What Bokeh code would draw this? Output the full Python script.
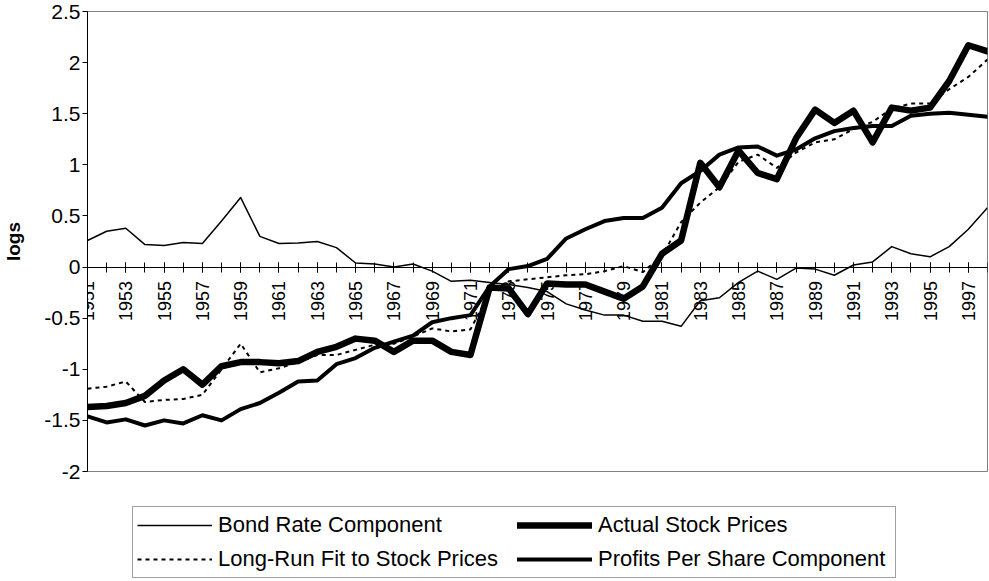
from math import pi
from bokeh.plotting import figure
from bokeh.layouts import column
from bokeh.models import Range1d, FixedTicker, Legend, LegendItem
from bokeh.embed import file_html
from bokeh.resources import INLINE

# ---------------- data ----------------
years = list(range(1951, 1999))

bond = [0.26, 0.35, 0.38, 0.22, 0.21, 0.24, 0.23, 0.45, 0.68, 0.30,
        0.23, 0.235, 0.25, 0.19, 0.04, 0.03, 0.00, 0.03, -0.04, -0.14,
        -0.13, -0.15, -0.17, -0.20, -0.24, -0.36, -0.42, -0.47, -0.47, -0.53,
        -0.53, -0.58, -0.33, -0.30, -0.15, -0.04, -0.12, -0.01, -0.02, -0.08,
        0.02, 0.05, 0.20, 0.13, 0.10, 0.20, 0.37, 0.58]

actual = [-1.37, -1.36, -1.33, -1.26, -1.11, -1.00, -1.15, -0.97, -0.93, -0.93,
          -0.94, -0.92, -0.83, -0.78, -0.70, -0.72, -0.83, -0.72, -0.72, -0.83,
          -0.86, -0.20, -0.21, -0.46, -0.16, -0.17, -0.17, -0.24, -0.31, -0.19,
          0.13, 0.26, 1.02, 0.78, 1.14, 0.92, 0.86, 1.26, 1.54, 1.41,
          1.53, 1.22, 1.56, 1.53, 1.56, 1.82, 2.17, 2.11]

longrun = [-1.19, -1.17, -1.12, -1.32, -1.30, -1.29, -1.25, -1.00, -0.75, -1.03,
           -0.99, -0.93, -0.86, -0.86, -0.81, -0.76, -0.75, -0.68, -0.60, -0.63,
           -0.61, -0.25, -0.14, -0.12, -0.10, -0.08, -0.07, -0.04, 0.01, -0.05,
           0.11, 0.44, 0.63, 0.78, 1.03, 1.10, 0.97, 1.12, 1.22, 1.25,
           1.35, 1.42, 1.55, 1.60, 1.60, 1.74, 1.86, 2.03]

profits = [-1.46, -1.52, -1.49, -1.55, -1.50, -1.53, -1.45, -1.50, -1.39, -1.33,
           -1.23, -1.12, -1.11, -0.95, -0.89, -0.79, -0.73, -0.67, -0.54, -0.50,
           -0.47, -0.19, -0.02, 0.01, 0.08, 0.28, 0.37, 0.45, 0.48, 0.48,
           0.58, 0.82, 0.94, 1.10, 1.17, 1.18, 1.09, 1.15, 1.26, 1.33,
           1.36, 1.38, 1.38, 1.48, 1.50, 1.51, 1.49, 1.47]

series_names = ["Bond Rate Component", "Actual Stock Prices",
                "Long-Run Fit to Stock Prices", "Profits Per Share Component"]

ytick_values = [-2, -1.5, -1, -0.5, 0, 0.5, 1, 1.5, 2, 2.5]
ytick_labels = ["-2", "-1.5", "-1", "-0.5", "0", "0.5", "1", "1.5", "2", "2.5"]
xlabel_years = years[::2]
y_title = "logs"

FONT = "Liberation Sans"

# styles for the four series (same order as series_names)
styles = [
    dict(line_color="black", line_width=1.5, line_join="round"),
    dict(line_color="black", line_width=6.5, line_join="round", line_cap="round"),
    dict(line_color="black", line_width=2, line_dash="4 4"),
    dict(line_color="black", line_width=4, line_join="round", line_cap="round"),
]
series = [bond, actual, longrun, profits]

# ---------------- main chart ----------------
p = figure(width=989, height=506, output_backend="svg", toolbar_location=None,
           x_range=Range1d(years[0], years[-1]), y_range=Range1d(-2, 2.5),
           min_border_left=86, min_border_right=2, min_border_top=11,
           min_border_bottom=35, background_fill_color="white",
           border_fill_color="white")

p.xgrid.visible = False
p.ygrid.visible = False
p.outline_line_color = "#808080"
p.outline_line_width = 1

# x axis crossing at y = 0
xa = p.xaxis[0]
xa.fixed_location = 0
xa.ticker = FixedTicker(ticks=xlabel_years, minor_ticks=years)
xa.axis_line_color = "black"
xa.major_tick_line_color = "black"
xa.minor_tick_line_color = "black"
xa.major_tick_in = 5
xa.major_tick_out = 5
xa.minor_tick_in = 5
xa.minor_tick_out = 5
xa.major_label_orientation = pi / 2
xa.major_label_standoff = 9
xa.major_label_text_font = FONT
xa.major_label_text_font_size = "18px"
xa.major_label_text_color = "black"

ya = p.yaxis[0]
ya.ticker = FixedTicker(ticks=ytick_values, minor_ticks=[])
ya.major_label_overrides = {v: s for v, s in zip(ytick_values, ytick_labels)}
ya.axis_line_color = "black"
ya.major_tick_line_color = "black"
ya.major_tick_in = 0
ya.major_tick_out = 5
ya.major_label_standoff = 2
ya.major_label_text_font = FONT
ya.major_label_text_font_size = "21px"
ya.major_label_text_color = "black"
ya.axis_label = y_title
ya.axis_label_text_font = FONT
ya.axis_label_text_font_style = "bold"
ya.axis_label_text_font_size = "19px"
ya.axis_label_text_color = "black"
ya.axis_label_standoff = 17

for s, st in zip(series, styles):
    p.line(years, s, **st)

# ---------------- legend strip below the chart ----------------
# Same series drawn again in a strip whose ranges keep them out of view;
# only their legend entries show.
lg = figure(width=989, height=75, output_backend="svg", toolbar_location=None,
            x_axis_type=None, y_axis_type=None, min_border=0,
            x_range=Range1d(0, 1), y_range=Range1d(10, 11),
            background_fill_color="white", border_fill_color="white")
lg.outline_line_color = None
lg.xgrid.visible = False
lg.ygrid.visible = False
proxies = [lg.line(years, s, **st) for s, st in zip(series, styles)]

legend = Legend(items=[
    LegendItem(label=series_names[i], renderers=[proxies[i]]) for i in range(4)
], location=(45, 3), orientation="horizontal", ncols=2)
legend.margin = 0
legend.padding = 4
legend.spacing = 6
legend.glyph_width = 75
legend.glyph_height = 28
legend.label_height = 28
legend.label_width = 293
legend.label_standoff = 6
legend.label_text_font = FONT
legend.label_text_font_size = "22px"
legend.label_text_color = "black"
legend.border_line_color = "#404040"
legend.border_line_width = 1
legend.background_fill_color = "white"
legend.background_fill_alpha = 1
lg.add_layout(legend, "center")

layout = column(p, lg, spacing=0)
open("out.html", "w").write(file_html(layout, INLINE))
